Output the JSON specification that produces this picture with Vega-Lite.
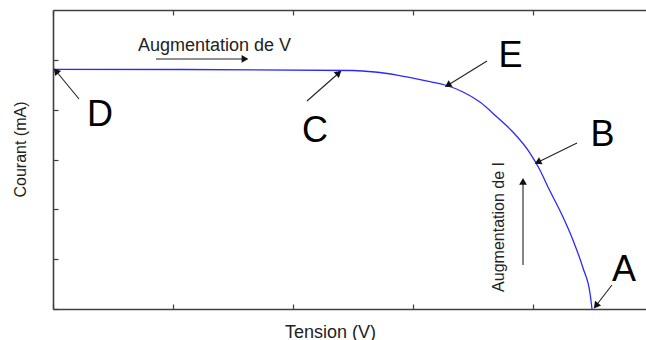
{
  "$schema": "https://vega.github.io/schema/vega-lite/v6.json",
  "width": 593,
  "height": 299,
  "autosize": {"type": "none"},
  "padding": {"left": 53, "top": 10, "right": 0, "bottom": 31},
  "background": "white",
  "config": {
    "view": {"stroke": null},
    "font": "Liberation Sans",
    "axis": {
      "grid": false,
      "labels": false,
      "tickSize": -5,
      "tickColor": "#404040",
      "tickWidth": 1.2,
      "domainColor": "#404040",
      "domainWidth": 1.6,
      "titleFont": "Liberation Sans",
      "titleFontWeight": "normal",
      "titleColor": "#222222"
    }
  },
  "resolve": {"axis": {"x": "independent", "y": "independent"}},
  "datasets": {
    "curve": [
      {"V": 0.0, "I": 4.81},
      {"V": 1.083, "I": 4.806},
      {"V": 2.5, "I": 4.786},
      {"V": 2.683, "I": 4.756},
      {"V": 2.867, "I": 4.695},
      {"V": 3.142, "I": 4.561},
      {"V": 3.267, "I": 4.495},
      {"V": 3.417, "I": 4.355},
      {"V": 3.558, "I": 4.154},
      {"V": 3.7, "I": 3.853},
      {"V": 3.833, "I": 3.552},
      {"V": 3.975, "I": 3.13},
      {"V": 4.058, "I": 2.789},
      {"V": 4.117, "I": 2.488},
      {"V": 4.25, "I": 1.846},
      {"V": 4.333, "I": 1.385},
      {"V": 4.417, "I": 0.822},
      {"V": 4.475, "I": 0.321},
      {"V": 4.492, "I": 0.0}
    ],
    "arrows": [
      {"id": "D", "V": 0.217, "I": 4.214, "V2": 0.025, "I2": 4.776},
      {"id": "C", "V": 2.117, "I": 4.174, "V2": 2.382, "I2": 4.736},
      {"id": "E", "V": 3.617, "I": 4.977, "V2": 3.29, "I2": 4.49},
      {"id": "B", "V": 4.367, "I": 3.331, "V2": 4.04, "I2": 2.945},
      {"id": "A", "V": 4.658, "I": 0.482, "V2": 4.525, "I2": 0.065},
      {"id": "Vdir", "V": 0.858, "I": 5.017, "V2": 1.6, "I2": 5.017},
      {"id": "Idir", "V": 3.917, "I": 0.883, "V2": 3.917, "I2": 2.56}
    ],
    "letters": [
      {"label": "D", "V": 0.392, "I": 3.672},
      {"label": "C", "V": 2.183, "I": 3.351},
      {"label": "E", "V": 3.813, "I": 4.856},
      {"label": "B", "V": 4.579, "I": 3.271},
      {"label": "A", "V": 4.758, "I": 0.562}
    ],
    "noteV": [{"label": "Augmentation de V", "V": 0.708, "I": 5.177}],
    "noteI": [{"label": "Augmentation de I", "V": 3.758, "I": 1.646}]
  },
  "layer": [
    {
      "data": {"name": "curve"},
      "mark": {"type": "line", "color": "#2a2aff", "strokeWidth": 1.3, "interpolate": "monotone"},
      "encoding": {
        "x": {"field": "V", "type": "quantitative",
              "scale": {"domain": [0, 4.942], "nice": false, "zero": false},
              "axis": {"orient": "bottom", "values": [0, 1, 2, 3, 4], "title": "Tension (V)",
                       "titleFontSize": 18, "titleX": 277, "titleY": 28, "titleBaseline": "alphabetic", "titleAlign": "center"}},
        "y": {"field": "I", "type": "quantitative",
              "scale": {"domain": [0, 6], "nice": false, "zero": false},
              "axis": {"orient": "left", "values": [0, 1, 2, 3, 4, 5], "title": "Courant (mA)",
                       "titleFontSize": 16, "titleAngle": 270, "titleX": -28, "titleY": 139, "titleBaseline": "alphabetic", "titleAlign": "center"}}
      }
    },
    {
      "data": {"name": "arrows"},
      "mark": {"type": "rule", "color": "#222222", "strokeWidth": 1.1},
      "encoding": {
        "x": {"field": "V", "type": "quantitative",
              "scale": {"domain": [0, 4.942], "nice": false, "zero": false},
              "axis": {"orient": "top", "values": [0, 1, 2, 3, 4], "title": null}},
        "y": {"field": "I", "type": "quantitative",
              "scale": {"domain": [0, 6], "nice": false, "zero": false}, "axis": null},
        "x2": {"field": "V2"},
        "y2": {"field": "I2"}
      }
    },
    {
      "data": {"name": "arrows"},
      "mark": {"type": "point", "shape": "triangle-up", "filled": true, "color": "#111111", "size": 60, "opacity": 1},
      "encoding": {
        "x": {"field": "V2", "type": "quantitative", "scale": {"domain": [0, 4.942], "nice": false, "zero": false}, "axis": null},
        "y": {"field": "I2", "type": "quantitative", "scale": {"domain": [0, 6], "nice": false, "zero": false}, "axis": null},
        "angle": {"field": "id", "type": "nominal", "legend": null,
                  "scale": {"type": "ordinal", "domain": ["D", "C", "E", "B", "A", "Vdir", "Idir"], "range": [320, 49, 239, 244, 218, 90, 0]}}
      }
    },
    {
      "data": {"name": "letters"},
      "mark": {"type": "text", "font": "Liberation Sans", "fontSize": 36, "color": "#000000", "align": "center", "baseline": "alphabetic"},
      "encoding": {
        "x": {"field": "V", "type": "quantitative", "scale": {"domain": [0, 4.942], "nice": false, "zero": false}, "axis": null},
        "y": {"field": "I", "type": "quantitative", "scale": {"domain": [0, 6], "nice": false, "zero": false}, "axis": null},
        "text": {"field": "label"}
      }
    },
    {
      "data": {"name": "noteV"},
      "mark": {"type": "text", "font": "Liberation Sans", "fontSize": 18, "color": "#222222", "align": "left", "baseline": "alphabetic"},
      "encoding": {
        "x": {"field": "V", "type": "quantitative", "scale": {"domain": [0, 4.942], "nice": false, "zero": false}, "axis": null},
        "y": {"field": "I", "type": "quantitative", "scale": {"domain": [0, 6], "nice": false, "zero": false}, "axis": null},
        "text": {"field": "label"}
      }
    },
    {
      "data": {"name": "noteI"},
      "mark": {"type": "text", "font": "Liberation Sans", "fontSize": 16, "color": "#222222", "align": "center", "baseline": "alphabetic", "angle": 270},
      "encoding": {
        "x": {"field": "V", "type": "quantitative", "scale": {"domain": [0, 4.942], "nice": false, "zero": false}, "axis": null},
        "y": {"field": "I", "type": "quantitative", "scale": {"domain": [0, 6], "nice": false, "zero": false}, "axis": null},
        "text": {"field": "label"}
      }
    }
  ]
}
